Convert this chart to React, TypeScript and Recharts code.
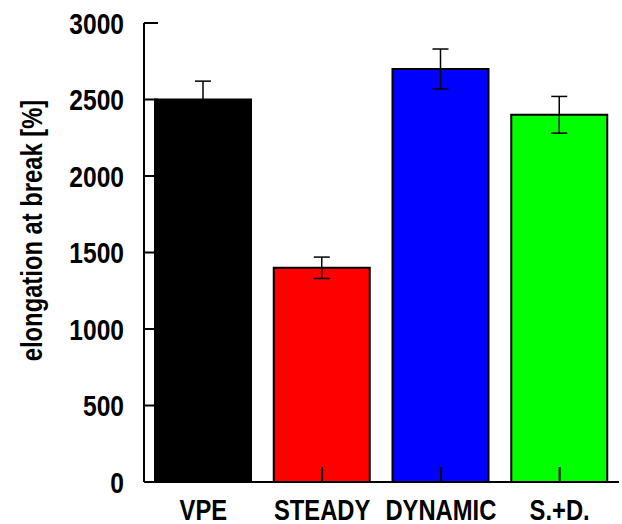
import React from 'react'
import { BarChart, Bar, XAxis, YAxis, ErrorBar, Cell } from 'recharts'

const categories = ['VPE', 'STEADY', 'DYNAMIC', 'S.+D.']
const elongation = [2500, 1400, 2700, 2400]
const errors = [120, 70, 130, 120]
const barColors = ['#000000', '#ff0000', '#0000ff', '#00ff00']
const yTicks = [0, 500, 1000, 1500, 2000, 2500, 3000]

const font = "'Liberation Sans', Arial, sans-serif"
// no narrow font installed, so squeeze the bold text horizontally
const squeeze = 'scale(0.82,1)'

const data = categories.map((name, i) => ({ name, value: elongation[i], err: errors[i] }))

function XTick(props: any) {
    const { x, y, payload } = props
    return (
        <g transform={`translate(${x},${y})`}>
            <text
                transform={squeeze}
                textAnchor="middle"
                dy="0.71em"
                fontFamily={font}
                fontWeight="bold"
                fontSize={29}
                fill="#000"
            >
                {payload.value}
            </text>
        </g>
    )
}

function YTick(props: any) {
    const { x, y, payload } = props
    return (
        <g transform={`translate(${x},${y})`}>
            <text
                transform={squeeze}
                textAnchor="end"
                dy="0.36em"
                fontFamily={font}
                fontWeight="bold"
                fontSize={30}
                fill="#000"
            >
                {payload.value}
            </text>
        </g>
    )
}

function YLabel(props: any) {
    const vb = props.viewBox || {}
    const cx = vb.x + 32
    const cy = vb.y + vb.height / 2 - 22
    return (
        <g transform={`translate(${cx},${cy}) rotate(-90) ${squeeze}`}>
            <text
                textAnchor="middle"
                dy="0.36em"
                fontFamily={font}
                fontWeight="bold"
                fontSize={29}
                fill="#000"
            >
                elongation at break [%]
            </text>
        </g>
    )
}

export default function App() {
    return (
        <div style={{ width: 622, height: 524 }}>
            <style>{'body{margin:0}'}</style>
            <BarChart
                width={622}
                height={524}
                data={data}
                margin={{ top: 23, right: 3, left: 0, bottom: 0 }}
            >
                <XAxis
                    dataKey="name"
                    height={42}
                    axisLine={{ stroke: '#000', strokeWidth: 2 }}
                    tickLine={{ stroke: '#000', strokeWidth: 2 }}
                    tickSize={-15}
                    tickMargin={32}
                    tick={(p: any) => <XTick {...p} />}
                    interval={0}
                />
                <XAxis
                    xAxisId="top"
                    dataKey="name"
                    orientation="top"
                    height={0}
                    tick={false}
                    tickLine={false}
                    axisLine={{ stroke: '#000', strokeWidth: 2 }}
                />
                <YAxis
                    width={144}
                    domain={[0, 3000]}
                    ticks={yTicks}
                    interval={0}
                    axisLine={{ stroke: '#000', strokeWidth: 2 }}
                    tickLine={{ stroke: '#000', strokeWidth: 2 }}
                    tickSize={-14}
                    tickMargin={34}
                    tick={(p: any) => <YTick {...p} />}
                    label={<YLabel />}
                />
                <YAxis
                    yAxisId="right"
                    orientation="right"
                    width={0}
                    domain={[0, 3000]}
                    tick={false}
                    tickLine={false}
                    axisLine={{ stroke: '#000', strokeWidth: 2 }}
                />
                <Bar dataKey="value" barSize={96} stroke="#000" strokeWidth={2} isAnimationActive={false}>
                    {data.map((d, i) => (
                        <Cell key={d.name} fill={barColors[i]} />
                    ))}
                    <ErrorBar dataKey="err" width={8} stroke="#000" strokeWidth={1.5} />
                </Bar>
            </BarChart>
        </div>
    )
}
